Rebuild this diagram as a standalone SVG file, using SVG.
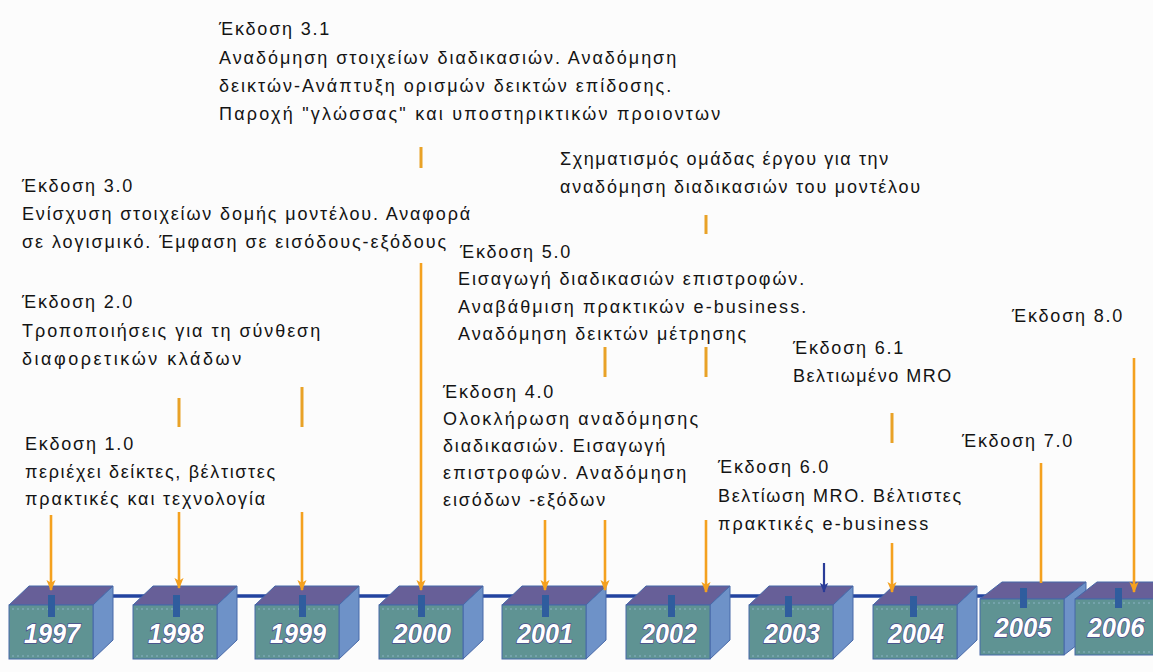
<svg xmlns="http://www.w3.org/2000/svg" width="1153" height="672" viewBox="0 0 1153 672">
  <defs>
    <style>
      .t { font-family: "Liberation Sans", Arial, "DejaVu Sans", sans-serif; font-size: 18px; letter-spacing: 1.8px; fill: #141414; }
      .yr { font-family: "Liberation Sans", Arial, sans-serif; font-size: 28px; font-weight: bold; font-style: italic; fill: #ffffff; stroke: #4a4a8c; stroke-width: 1.4px; paint-order: stroke; text-anchor: middle; }
      .front { fill: #5f9393; stroke: #4768a8; stroke-width: 1; }
      .top { fill: #675f98; stroke: #4768a8; stroke-width: 1; }
      .side { fill: #6e92c8; stroke: #4768a8; stroke-width: 1; }
      .dots { fill: none; stroke: #9cc0d8; stroke-width: 1; stroke-dasharray: 2 3; opacity: 0.7; }
      .tab { fill: #2f5d9e; }
      .link { stroke: #2344a0; stroke-width: 3.5; fill: none; }
      .arr { stroke: #f4a11f; stroke-width: 2.6; fill: none; }
      .seg { stroke: #e9a227; stroke-width: 3; fill: none; }
      .arrb { stroke: #2a3c98; stroke-width: 2.2; fill: none; }
    </style>
    <marker id="headO" markerUnits="userSpaceOnUse" markerWidth="11" markerHeight="11" viewBox="0 0 12 12" refX="11" refY="6" orient="auto">
      <path d="M0,1 L12,6 L0,11 L3,6 z" fill="#f4a11f"/>
    </marker>
    <marker id="headB" markerUnits="userSpaceOnUse" markerWidth="10" markerHeight="10" viewBox="0 0 12 12" refX="11" refY="6" orient="auto">
      <path d="M0,1 L12,6 L0,11 L3,6 z" fill="#2a3c98"/>
    </marker>
    <!-- one cube: front face at (0,0), 84 x 54, depth 20 x 19 -->
    <g id="cube">
      <polygon class="top" points="0,0 20,-19 104,-19 84,0"/>
      <polygon class="side" points="84,0 104,-19 104,35 84,54"/>
      <rect class="front" x="0" y="0" width="84" height="54"/>
      <line class="dots" x1="3" y1="4" x2="82" y2="4"/>
      <line class="dots" x1="3" y1="51" x2="82" y2="51"/>
    </g>
    <g id="cubeWide">
      <polygon class="top" points="0,0 22,-17 106,-17 84,0"/>
      <polygon class="side" points="84,0 106,-17 106,39 84,56"/>
      <rect class="front" x="0" y="0" width="84" height="56"/>
      <line class="dots" x1="3" y1="4" x2="82" y2="4"/>
      <line class="dots" x1="3" y1="53" x2="82" y2="53"/>
    </g>
  </defs>

  <rect width="1153" height="672" fill="#fcfcfc"/>

  <!-- timeline bar behind the year blocks -->
  <g id="connectors">
    <line class="link" x1="100" y1="596" x2="1090" y2="596"/>
  </g>

  <!-- year blocks -->
  <g id="y1997"><use href="#cube" x="9" y="605"/><rect class="tab" x="48" y="595" width="7" height="22"/><text class="yr" x="52" y="643" textLength="56" lengthAdjust="spacingAndGlyphs">1997</text></g>
  <g id="y1998"><use href="#cube" x="133" y="605"/><rect class="tab" x="173" y="595" width="7" height="22"/><text class="yr" x="176" y="643" textLength="56" lengthAdjust="spacingAndGlyphs">1998</text></g>
  <g id="y1999"><use href="#cube" x="255" y="605"/><rect class="tab" x="299" y="595" width="7" height="22"/><text class="yr" x="298" y="643" textLength="56" lengthAdjust="spacingAndGlyphs">1999</text></g>
  <g id="y2000"><use href="#cube" x="379" y="605"/><rect class="tab" x="418" y="595" width="7" height="22"/><text class="yr" x="422" y="643" textLength="58" lengthAdjust="spacingAndGlyphs">2000</text></g>
  <g id="y2001"><use href="#cube" x="502" y="605"/><rect class="tab" x="542" y="595" width="7" height="22"/><text class="yr" x="545" y="643" textLength="56" lengthAdjust="spacingAndGlyphs">2001</text></g>
  <g id="y2002"><use href="#cube" x="626" y="605"/><rect class="tab" x="668" y="595" width="7" height="22"/><text class="yr" x="669" y="643" textLength="56" lengthAdjust="spacingAndGlyphs">2002</text></g>
  <g id="y2003"><use href="#cube" x="749" y="605"/><rect class="tab" x="785" y="596" width="7" height="21"/><text class="yr" x="792" y="643" textLength="56" lengthAdjust="spacingAndGlyphs">2003</text></g>
  <g id="y2004"><use href="#cube" x="873" y="605"/><rect class="tab" x="910" y="596" width="7" height="21"/><text class="yr" x="916" y="643" textLength="56" lengthAdjust="spacingAndGlyphs">2004</text></g>
  <g id="y2005"><use href="#cubeWide" x="980" y="599"/><rect class="tab" x="1020" y="588" width="7" height="20"/><text class="yr" x="1023" y="637" textLength="57" lengthAdjust="spacingAndGlyphs">2005</text></g>
  <g id="y2006"><use href="#cubeWide" x="1075" y="599"/><rect class="tab" x="1115" y="588" width="7" height="20"/><text class="yr" x="1116" y="637" textLength="57" lengthAdjust="spacingAndGlyphs">2006</text></g>

  <!-- version pointers -->
  <g id="pointers">
    <line class="seg" x1="179" y1="398" x2="179" y2="427"/>
    <line class="seg" x1="302" y1="387" x2="302" y2="427"/>
    <line class="seg" x1="421" y1="147" x2="421" y2="168"/>
    <line class="seg" x1="706" y1="215" x2="706" y2="234"/>
    <line class="seg" x1="605" y1="347" x2="605" y2="377"/>
    <line class="seg" x1="706" y1="347" x2="706" y2="377"/>
    <line class="seg" x1="892" y1="413" x2="892" y2="443"/>

    <line class="arr" x1="51" y1="515" x2="51" y2="590" marker-end="url(#headO)"/>
    <line class="arr" x1="179" y1="512" x2="179" y2="588" marker-end="url(#headO)"/>
    <line class="arr" x1="302" y1="512" x2="302" y2="590" marker-end="url(#headO)"/>
    <line class="arr" x1="421" y1="263" x2="421" y2="590" marker-end="url(#headO)"/>
    <line class="arr" x1="545" y1="520" x2="545" y2="590" marker-end="url(#headO)"/>
    <line class="arr" x1="605" y1="520" x2="605" y2="590" marker-end="url(#headO)"/>
    <line class="arr" x1="706" y1="520" x2="706" y2="592" marker-end="url(#headO)"/>
    <line class="arrb" x1="824" y1="563" x2="824" y2="592" marker-end="url(#headB)"/>
    <line class="arr" x1="892" y1="543" x2="892" y2="592" marker-end="url(#headO)"/>
    <line class="arr" x1="1041" y1="463" x2="1041" y2="583"/>
    <line class="arr" x1="1134" y1="358" x2="1134" y2="592" marker-end="url(#headO)"/>
  </g>

  <!-- release notes -->
  <g id="v31">
    <text class="t" x="219" y="35">Έκδοση 3.1</text>
    <text class="t" x="219" y="64" textLength="459">Αναδόμηση στοιχείων διαδικασιών. Αναδόμηση</text>
    <text class="t" x="219" y="92" textLength="454">δεικτών-Ανάπτυξη ορισμών δεικτών επίδοσης.</text>
    <text class="t" x="219" y="120" textLength="503">Παροχή "γλώσσας" και υποστηρικτικών προιοντων</text>
  </g>
  <g id="v30">
    <text class="t" x="22" y="192">Έκδοση 3.0</text>
    <text class="t" x="22" y="220" textLength="450">Ενίσχυση στοιχείων δομής μοντέλου. Αναφορά</text>
    <text class="t" x="22" y="248" textLength="426">σε λογισμικό. Έμφαση σε εισόδους-εξόδους</text>
  </g>
  <g id="v20">
    <text class="t" x="22" y="308">Έκδοση 2.0</text>
    <text class="t" x="22" y="337" textLength="300">Τροποποιήσεις για τη σύνθεση</text>
    <text class="t" x="22" y="365" textLength="221">διαφορετικών κλάδων</text>
  </g>
  <g id="v10">
    <text class="t" x="25" y="450">Εκδοση 1.0</text>
    <text class="t" x="25" y="478" textLength="252">περιέχει δείκτες, βέλτιστες</text>
    <text class="t" x="25" y="505" textLength="242">πρακτικές και τεχνολογία</text>
  </g>
  <g id="team">
    <text class="t" x="560" y="165" textLength="330">Σχηματισμός ομάδας έργου για την</text>
    <text class="t" x="560" y="193" textLength="362">αναδόμηση διαδικασιών του μοντέλου</text>
  </g>
  <g id="v50">
    <text class="t" x="460" y="258">Έκδοση 5.0</text>
    <text class="t" x="458" y="285" textLength="348">Εισαγωγή διαδικασιών επιστροφών.</text>
    <text class="t" x="458" y="313" textLength="350">Αναβάθμιση πρακτικών e-business.</text>
    <text class="t" x="458" y="340" textLength="290">Αναδόμηση δεικτών μέτρησης</text>
  </g>
  <g id="v40">
    <text class="t" x="443" y="398">Έκδοση 4.0</text>
    <text class="t" x="443" y="425" textLength="257">Ολοκλήρωση αναδόμησης</text>
    <text class="t" x="443" y="452" textLength="224">διαδικασιών. Εισαγωγή</text>
    <text class="t" x="443" y="479" textLength="245">επιστροφών. Αναδόμηση</text>
    <text class="t" x="443" y="506" textLength="164">εισόδων -εξόδων</text>
  </g>
  <g id="v60">
    <text class="t" x="718" y="473">Έκδοση 6.0</text>
    <text class="t" x="718" y="502" textLength="245">Βελτίωση MRO. Βέλτιστες</text>
    <text class="t" x="718" y="530" textLength="212">πρακτικές e-business</text>
  </g>
  <g id="v61">
    <text class="t" x="793" y="354">Έκδοση 6.1</text>
    <text class="t" x="793" y="382" textLength="160">Βελτιωμένο MRO</text>
  </g>
  <g id="v70">
    <text class="t" x="962" y="447">Έκδοση 7.0</text>
  </g>
  <g id="v80">
    <text class="t" x="1012" y="322">Έκδοση 8.0</text>
  </g>
</svg>
